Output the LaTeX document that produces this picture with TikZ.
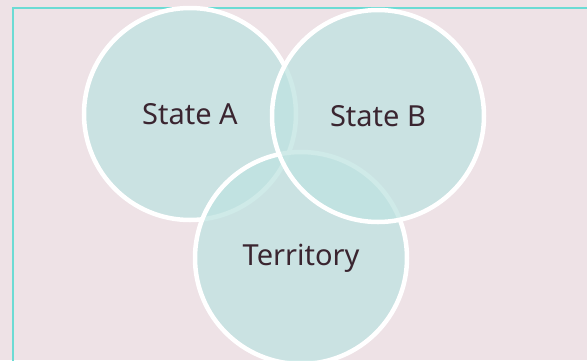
\documentclass[tikz,border=0pt]{standalone}
\usepackage{fontspec}
\setmainfont{Noto Sans}
\definecolor{bg}{HTML}{EEE2E6}
\definecolor{frame}{HTML}{6CDBD4}
\definecolor{disc}{HTML}{BFE3E1}
\definecolor{ink}{HTML}{3A2530}
\tikzset{
  setdisc/.style={circle, minimum size=212pt, inner sep=0pt,
    fill=disc, fill opacity=0.75, draw=white, line width=4.5pt,
    draw opacity=1, text opacity=1, text=ink, font=\fontsize{29}{34}\selectfont}
}
\begin{document}
\begin{tikzpicture}[x=1pt,y=-1pt]
  \fill[bg] (0,0) rectangle (587,360);
  \useasboundingbox (0,0) rectangle (587,360);
  \draw[frame, line width=2.2pt] (13,420) -- (13,8) -- (640,8);
  \node[setdisc] (a) at (190,114) {State A};
  \node[setdisc] (t) at (301,258) {Territory};
  \node[setdisc] (b) at (378,116) {State B};
\end{tikzpicture}
\end{document}
